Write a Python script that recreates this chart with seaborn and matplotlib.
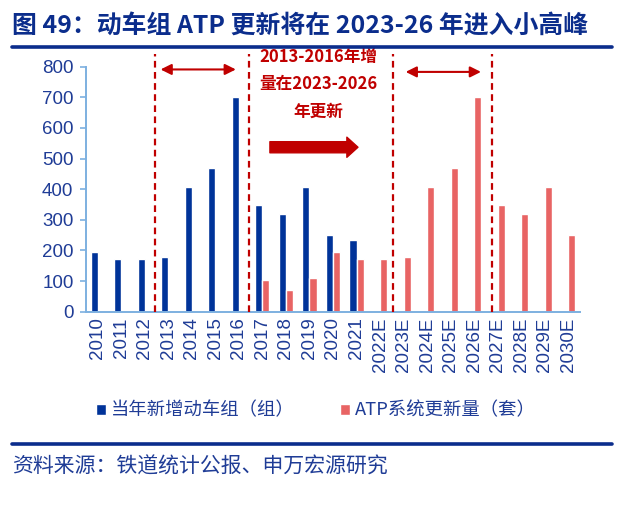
import matplotlib
matplotlib.use("Agg")
import matplotlib.pyplot as plt
import seaborn as sns
import pandas as pd
import numpy as np
from matplotlib.lines import Line2D
from matplotlib.patches import FancyArrowPatch

# ---------------- data ----------------
years = ["2010", "2011", "2012", "2013", "2014", "2015", "2016", "2017", "2018",
         "2019", "2020", "2021", "2022E", "2023E", "2024E", "2025E", "2026E",
         "2027E", "2028E", "2029E", "2030E"]
emu_new = [195, 172, 172, 177, 407, 470, 700, 347, 320, 408, 252, 234] + [np.nan] * 9
atp_replace = [np.nan] * 7 + [104, 70, 109, 195, 171, 172, 177, 407, 470, 700,
                              347, 320, 408, 252]
series_names = ["当年新增动车组（组）", "ATP系统更新量（套）"]
yticks = [0, 100, 200, 300, 400, 500, 600, 700, 800]
title = "图 49：动车组 ATP 更新将在 2023-26 年进入小高峰"
source = "资料来源：铁道统计公报、申万宏源研究"
note_lines = ["2013-2016年增", "量在2023-2026", "年更新"]

df = pd.DataFrame({
    "year": years * 2,
    "series": [series_names[0]] * len(years) + [series_names[1]] * len(years),
    "value": emu_new + atp_replace,
}).dropna()

# ---------------- style ----------------
sns.set_theme(style="white")
plt.rcParams["font.family"] = ["Noto Sans CJK SC", "DejaVu Sans"]

BLUE = "#003399"
RED = "#E86464"
DARK_RED = "#C00000"
TEXT_BLUE = "#1F3C96"
AXIS_BLUE = "#7DB0E0"
TITLE_BLUE = "#0B2D8C"

W, H = 625, 515
fig = plt.figure(figsize=(W / 100, H / 100), dpi=100)
ax = fig.add_axes([86 / W, 1 - 311.7 / H, (580 - 86) / W, (311.7 - 66.7) / H])

sns.barplot(data=df, x="year", y="value", hue="series", order=years,
            hue_order=series_names, palette=[BLUE, RED], width=0.6,
            dodge=True, saturation=1, ax=ax, legend=True)

ax.set_xlim(-0.5, len(years) - 0.5)
ax.set_ylim(0, 800)
ax.set_yticks(yticks)
ax.set_xlabel("")
ax.set_ylabel("")

num_font = ["Liberation Sans", "DejaVu Sans"]
ax.set_yticklabels([str(v) for v in yticks], family=num_font, fontsize=13.5, color=TEXT_BLUE)
ax.set_xticks(range(len(years)))
ax.set_xticklabels(years, rotation=90, family=num_font, fontsize=13.5, color=TEXT_BLUE)
ax.tick_params(axis="x", which="major", length=0, pad=4)
ax.set_xticks(np.arange(-0.5, len(years), 1), minor=True)
ax.tick_params(axis="x", which="minor", length=5, color=AXIS_BLUE, width=1.2, direction="out")
ax.tick_params(axis="y", which="major", length=4, color=AXIS_BLUE, width=1.2,
               direction="out", left=True, pad=5)

for s in ["top", "right"]:
    ax.spines[s].set_visible(False)
for s in ["left", "bottom"]:
    ax.spines[s].set_color(AXIS_BLUE)
    ax.spines[s].set_linewidth(1.4)
ax.grid(False)

# dashed separators
for xv in [2.45, 6.43, 12.55, 16.78]:
    ax.plot([xv, xv], [0, 841], linestyle=(0, (3, 2)), color=DARK_RED, lw=1.6,
            clip_on=False, zorder=5)

# double arrows
for x0, x1, yv in [(2.67, 5.87, 791), (13.09, 16.29, 783)]:
    ax.annotate("", xy=(x1, yv), xytext=(x0, yv), annotation_clip=False,
                arrowprops=dict(arrowstyle="<|-|>", color=DARK_RED, lw=1.5,
                                mutation_scale=16, shrinkA=0, shrinkB=0))

# big right arrow
big = FancyArrowPatch((7.2, 537), (11.18, 537),
                      arrowstyle="simple,head_length=0.8,head_width=1.45,tail_width=0.8",
                      mutation_scale=10, color=DARK_RED, clip_on=False, zorder=6)
ax.add_patch(big)

for txt, yv in zip(note_lines, [833, 742, 653]):
    ax.text(9.39, yv, txt, ha="center", va="center", fontsize=12, fontweight="bold",
            color=DARK_RED, clip_on=False)

# legend
handles, labels = ax.get_legend_handles_labels()
ax.get_legend().remove()
leg = fig.legend(handles, labels, loc="center", bbox_to_anchor=(316 / W, 1 - 410.7 / H),
                 ncol=2, frameon=False, fontsize=13.2, handlelength=0.55,
                 handleheight=0.55, handletextpad=0.25, columnspacing=2.5)
for t in leg.get_texts():
    t.set_color(TEXT_BLUE)

# title & footer
fig.text(12 / W, 1 - 27 / H, title, fontsize=17.9, fontweight="bold", color=TITLE_BLUE,
         va="center", ha="left")
fig.add_artist(Line2D([12 / W, 612 / W], [1 - 47 / H] * 2, lw=2.6, color=TITLE_BLUE))
fig.add_artist(Line2D([12 / W, 612 / W], [1 - 443.5 / H] * 2, lw=2.6, color=TITLE_BLUE))
fig.text(12 / W, 1 - 466.7 / H, source, fontsize=15, color=TEXT_BLUE, va="center", ha="left")

fig.savefig("out.png", dpi=100)
